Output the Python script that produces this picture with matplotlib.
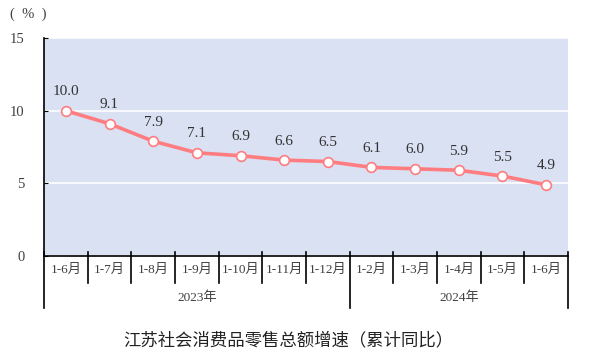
import matplotlib
matplotlib.use("Agg")
import matplotlib.pyplot as plt
import matplotlib.transforms as mtransforms

plt.rcParams['font.family'] = ['Liberation Serif', 'Noto Sans CJK SC', 'DejaVu Sans']

categories = ["1-6月", "1-7月", "1-8月", "1-9月", "1-10月", "1-11月", "1-12月",
              "1-2月", "1-3月", "1-4月", "1-5月", "1-6月"]
values = [10.0, 9.1, 7.9, 7.1, 6.9, 6.6, 6.5, 6.1, 6.0, 5.9, 5.5, 4.9]
years = ["2023年", "2024年"]
year_counts = [7, 5]
yticks = [0, 5, 10, 15]
title = "江苏社会消费品零售总额增速（累计同比）"

fig = plt.figure(figsize=(5.89, 3.62), dpi=100)
ax = fig.add_axes([44/589, 1-256/362, (568-44)/589, (256-38)/362])
ax.set_facecolor('#D9E1F2')
n = len(categories)
x = list(range(n))
ax.set_xlim(-0.5, n-0.5)
ax.set_ylim(0, 15)
ax.set_yticks(yticks)
ax.yaxis.grid(True, color='white', linewidth=1.2)
ax.set_axisbelow(True)
ax.tick_params(axis='y', direction='in', length=3, labelsize=10.5, labelcolor='#404040', pad=14)
ax.set_yticklabels([str(v) for v in yticks])
ax.set_xticks([])
for s in ['top', 'right']:
    ax.spines[s].set_visible(False)
ax.spines['left'].set_color('black')
ax.spines['bottom'].set_color('black')
ax.spines['left'].set_linewidth(1.2)
ax.spines['bottom'].set_linewidth(1.2)

ax.plot(x, values, color='#FF7C80', linewidth=2.6, marker='o', markersize=7,
        markerfacecolor='white', markeredgecolor='#FF7C80', markeredgewidth=1.2,
        zorder=3)
for xi, v in zip(x, values):
    ax.annotate(f"{v:.1f}", (xi, v), xytext=(0, 9), textcoords='offset points',
                ha='center', va='bottom', fontsize=11, color='#333333')

trans = mtransforms.blended_transform_factory(ax.transData, ax.transAxes)
big = [0]
acc = 0
for c in year_counts:
    acc += c
    big.append(acc)
for b in range(n + 1):
    xb = b - 0.5
    y0 = -0.239 if b in big else -0.124
    ax.plot([xb, xb], [y0, 0.018], transform=trans, color='black', linewidth=1.2, clip_on=False)
for xi, c in zip(x, categories):
    ax.text(xi, -0.062, c, transform=trans, ha='center', va='center', fontsize=9.5, color='#404040')
start = 0
for yr, c in zip(years, year_counts):
    mid = start + c/2 - 0.5
    ax.text(mid, -0.19, yr, transform=trans, ha='center', va='center', fontsize=9.5, color='#404040')
    start += c

fig.text(28/589, 1-14/362, "(  %  )", ha='center', va='center', fontsize=10.5, color='#404040')
fig.text(288/589, 1-340/362, title, ha='center', va='center', fontsize=12.5, color='#222222',
         family=['Noto Sans CJK SC', 'DejaVu Sans'])

fig.savefig('out.png', dpi=100)
